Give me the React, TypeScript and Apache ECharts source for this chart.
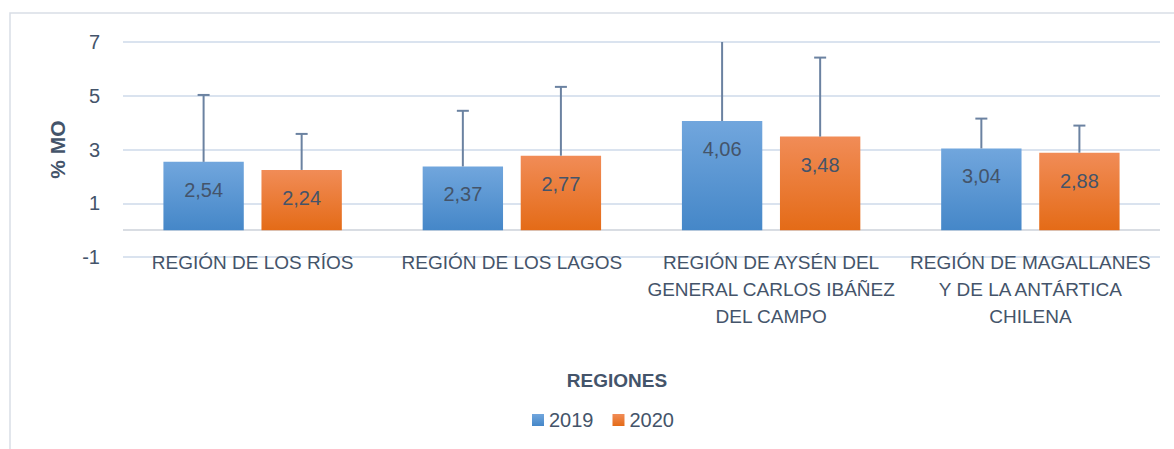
import React, { useEffect, useRef } from "react";
import * as echarts from "echarts";

const categories = [
  "REGIÓN DE LOS RÍOS",
  "REGIÓN DE LOS LAGOS",
  "REGIÓN DE AYSÉN DEL\nGENERAL CARLOS IBÁÑEZ\nDEL CAMPO",
  "REGIÓN DE MAGALLANES\nY DE LA ANTÁRTICA\nCHILENA",
];
const seriesNames = ["2019", "2020"];
const values2019 = [2.54, 2.37, 4.06, 3.04];
const values2020 = [2.24, 2.77, 3.48, 2.88];
const errors2019 = [2.49, 2.07, 3.4, 1.11];
const errors2020 = [1.34, 2.56, 2.94, 1.01];
const yMin = -1;
const yMax = 7;
const yInterval = 2;
const baseline = 0;

const FONT = "'Liberation Sans', Arial, sans-serif";
const TEXT = "#44546a";
const ERR = "#6b82a1";

const blue = new echarts.graphic.LinearGradient(0, 0, 0, 1, [
  { offset: 0, color: "#71a6dd" },
  { offset: 1, color: "#4587c8" },
]);
const orange = new echarts.graphic.LinearGradient(0, 0, 0, 1, [
  { offset: 0, color: "#f18c57" },
  { offset: 1, color: "#e46b17" },
]);

const BAR_W = 0.31;
const BAR_GAP = 0.22;

function errSeries(name: string, values: number[], errors: number[], sign: number) {
  return {
    type: "custom",
    name: name + "_err",
    clip: true,
    z: 5,
    encode: { x: 0, y: 1 },
    data: values.map((v, i) => [i, v, errors[i]]),
    renderItem: (params: any, api: any) => {
      const i = api.value(0);
      const v = api.value(1);
      const e = api.value(2);
      const base = api.coord([i, v]);
      const top = api.coord([i, v + e]);
      const catW = api.size([1, 0])[0];
      const bw = catW * BAR_W;
      const x = base[0] + (sign * bw * (1 + BAR_GAP)) / 2;
      const style = { stroke: ERR, lineWidth: 2 };
      return {
        type: "group",
        children: [
          { type: "line", shape: { x1: x, y1: base[1], x2: x, y2: top[1] }, style },
          { type: "line", shape: { x1: x - 6, y1: top[1], x2: x + 6, y2: top[1] }, style },
        ],
      };
    },
  };
}

export default function App() {
  const ref = useRef<HTMLDivElement>(null);
  useEffect(() => {
    document.body.style.margin = "0";
    const chart = echarts.init(ref.current!, null, { renderer: "svg" });
    const fmt = (p: any) => Number(p.value).toFixed(2).replace(".", ",");
    const label = {
      show: true,
      position: "insideTop",
      distance: 18,
      fontSize: 20,
      color: TEXT,
      fontFamily: FONT,
      formatter: fmt,
    };
    chart.setOption({
      animation: false,
      textStyle: { fontFamily: FONT },
      grid: { left: 123, right: 14, top: 42, bottom: 192, containLabel: false },
      legend: {
        data: seriesNames,
        left: 527,
        top: 405,
        icon: "rect",
        itemWidth: 12,
        itemHeight: 12,
        itemGap: 19,
        textStyle: { fontSize: 20, color: TEXT, fontFamily: FONT },
      },
      graphic: [
        {
          type: "rect",
          shape: { x: 10, y: 13, width: 1200, height: 500 },
          style: { fill: "none", stroke: "#d9dee6", lineWidth: 1.5 },
          silent: true,
        },
        {
          type: "text",
          x: 617,
          y: 380,
          style: {
            text: "REGIONES",
            fill: TEXT,
            font: "bold 19px " + FONT,
            textAlign: "center",
            textVerticalAlign: "middle",
          },
        },
      ],
      xAxis: {
        type: "category",
        data: categories,
        axisLine: { show: false, onZero: false },
        axisTick: { show: false },
        axisLabel: {
          interval: 0,
          margin: -8,
          fontSize: 19,
          lineHeight: 27,
          color: TEXT,
          fontFamily: FONT,
        },
      },
      yAxis: {
        type: "value",
        min: yMin,
        max: yMax,
        interval: yInterval,
        name: "% MO",
        nameLocation: "middle",
        nameRotate: 90,
        nameGap: 55,
        nameTextStyle: { fontSize: 21, fontWeight: "bold", color: TEXT, fontFamily: FONT },
        axisLine: { show: false },
        axisTick: { show: false },
        axisLabel: { fontSize: 20, color: TEXT, margin: 23, fontFamily: FONT },
        splitLine: { lineStyle: { color: "#dae3ef", width: 2 } },
      },
      series: [
        {
          type: "bar",
          name: seriesNames[0],
          data: values2019,
          barWidth: BAR_W * 100 + "%",
          barGap: BAR_GAP * 100 + "%",
          itemStyle: { color: blue },
          label,
          markLine: {
            silent: true,
            symbol: "none",
            label: { show: false },
            lineStyle: { color: "#d9dde3", width: 2, type: "solid" },
            data: [{ yAxis: baseline }],
            z: 1,
          },
        },
        {
          type: "bar",
          name: seriesNames[1],
          data: values2020,
          barWidth: BAR_W * 100 + "%",
          barGap: BAR_GAP * 100 + "%",
          itemStyle: { color: orange },
          label,
        },
        errSeries(seriesNames[0], values2019, errors2019, -1),
        errSeries(seriesNames[1], values2020, errors2020, 1),
      ],
    });
    return () => chart.dispose();
  }, []);
  return <div ref={ref} style={{ width: 1174, height: 449 }} />;
}
